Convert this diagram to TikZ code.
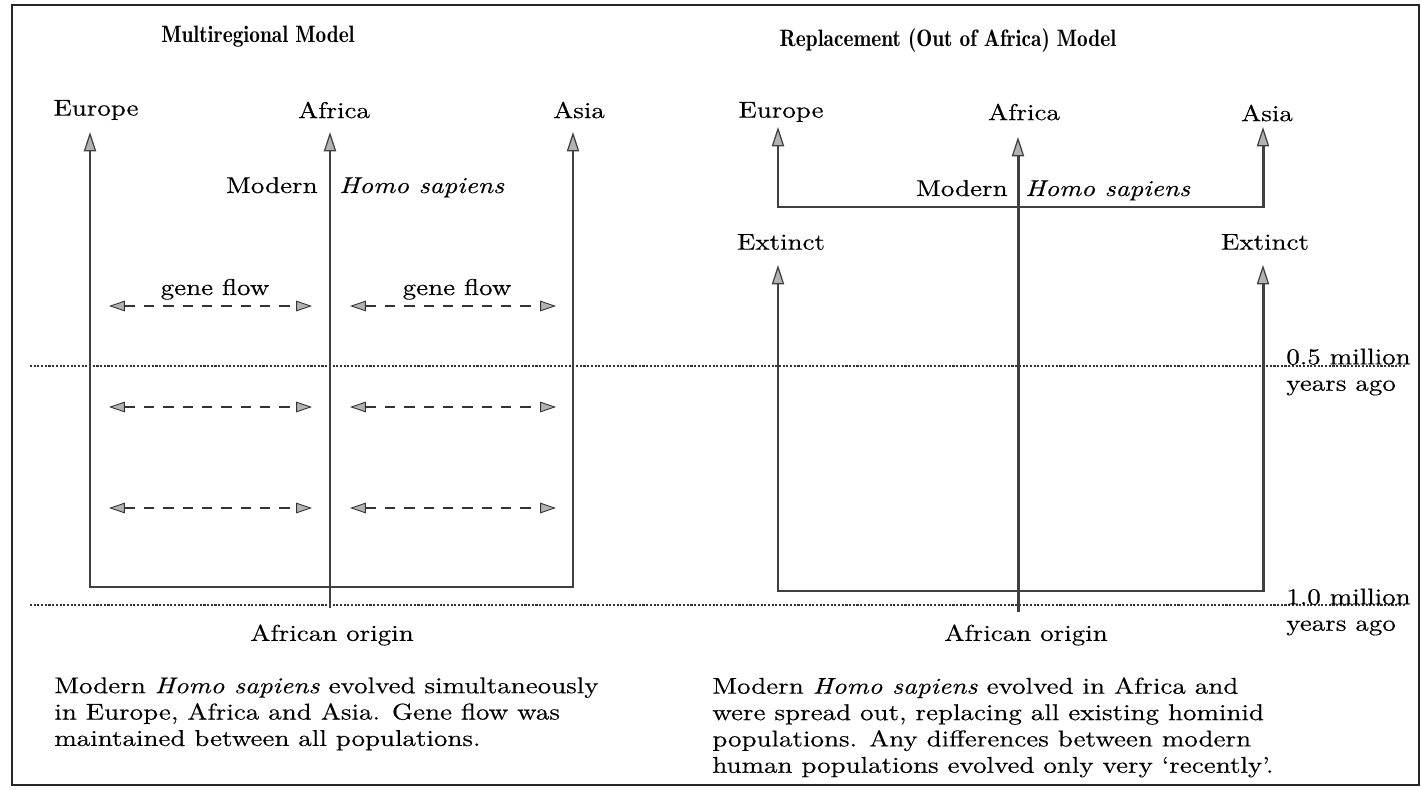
\documentclass[tikz,border=0pt]{standalone}
\usepackage{fontspec}
\setmainfont{lmroman10}[Extension=.otf, UprightFont=*-regular, BoldFont=*-bold, ItalicFont=*-italic, FakeStretch=1.18, FakeBold=0.3]
\newfontfamily\titlefont{lmromandemi10-regular.otf}[FakeStretch=0.9]
\usepackage{xcolor}
\usetikzlibrary{arrows.meta}

\begin{document}
\begin{tikzpicture}[x=0.02cm, y=-0.02cm,
    every node/.style={inner sep=0pt, font=\fontsize{13}{15}\selectfont},
    title/.style={font=\fontsize{13.5}{15}\titlefont},
    stem/.style={line width=1.7pt, draw=black!75, >={Triangle[length=11pt,width=7pt,fill=gray!60,line width=0.7pt]}},
    flow/.style={<->, line width=1.3pt, draw=black!80, dash pattern=on 6pt off 5pt, >={Triangle[length=9pt,width=6pt,fill=gray!60,line width=0.5pt]}},
    era/.style={line width=1.2pt, draw=black!80, dash pattern=on 1.2pt off 0.9pt},
    body/.style={align=left, anchor=north west}]

\useasboundingbox (0,0) rectangle (1421,791);
\draw[line width=1pt, black!85] (12,5) rectangle (1419,785);

\node[title] (multi) at (258,37) {Multiregional Model};
\node[title] (repl)  at (948,41) {Replacement (Out of Africa) Model};

\coordinate (t5a)  at (30,366);  \coordinate (t5b)  at (1405,366);
\coordinate (t10a) at (30,605);  \coordinate (t10b) at (1405,605);
\draw[era] (t5a) -- (t5b);
\draw[era] (t10a) -- (t10b);
\node[align=left, anchor=west] (half) at (1286,372) {0.5 million\\years ago};
\node[align=left, anchor=west] (one)  at (1286,612) {1.0 million\\years ago};

\node (euroL) at (96,110)  {Europe};
\node (afrL)  at (334,110) {Africa};
\node (asiaL) at (579,110) {Asia};
\node[anchor=base east] (modL) at (318,193) {Modern};
\node[anchor=base west] (sapL) at (339,193) {\itshape Homo sapiens};
\node[anchor=base] (flowA) at (215,295) {gene flow};
\node[anchor=base] (flowB) at (457,295) {gene flow};
\node (origL) at (332,635) {African origin};
\node[body] (textL) at (54,677) {Modern \textit{Homo sapiens} evolved simultaneously\\in Europe, Africa and Asia. Gene flow was\\maintained between all populations.};

\coordinate (eL0) at (90,587);  \coordinate (eL1) at (90,132);
\coordinate (aL0) at (330,608); \coordinate (aL1) at (330,132);
\coordinate (sL0) at (573,587); \coordinate (sL1) at (573,132);
\draw[stem,<->] (eL1) -- (eL0) -- (sL0) -- (sL1);
\draw[stem,->] (aL0) -- (aL1);

\foreach \y [count=\i] in {306,407,508} {
  \coordinate (ga\i) at (109,\y);
  \coordinate (gb\i) at (312,\y);
  \coordinate (gc\i) at (350,\y);
  \coordinate (gd\i) at (556,\y);
  \draw[flow] (ga\i) -- (gb\i);
  \draw[flow] (gc\i) -- (gd\i);
}

\node (euroR) at (781,112)  {Europe};
\node (afrR)  at (1024,112) {Africa};
\node (asiaR) at (1267,113) {Asia};
\node[anchor=base east] (modR) at (1008,196) {Modern};
\node[anchor=base west] (sapR) at (1025,196) {\itshape Homo sapiens};
\node (extE) at (781,242)  {Extinct};
\node (extA) at (1265,242) {Extinct};
\node (origR) at (1026,635) {African origin};
\node[body] (textR) at (712,677) {Modern \textit{Homo sapiens} evolved in Africa and\\were spread out, replacing all existing hominid\\populations. Any differences between modern\\human populations evolved only very ‘recently’.};

\coordinate (eR1) at (778,127);  \coordinate (eRc) at (778,207);
\coordinate (sR1) at (1263,127); \coordinate (sRc) at (1263,207);
\coordinate (xE1) at (778,265);  \coordinate (xE0) at (778,591);
\coordinate (xA1) at (1263,265); \coordinate (xA0) at (1263,591);
\coordinate (aR0) at (1018,612); \coordinate (aR1) at (1018,137);
\draw[stem,<->] (eR1) -- (eRc) -- (sRc) -- (sR1);
\draw[stem,<->] (xE1) -- (xE0) -- (xA0) -- (xA1);
\draw[stem,->] (aR0) -- (aR1);
\end{tikzpicture}
\end{document}
